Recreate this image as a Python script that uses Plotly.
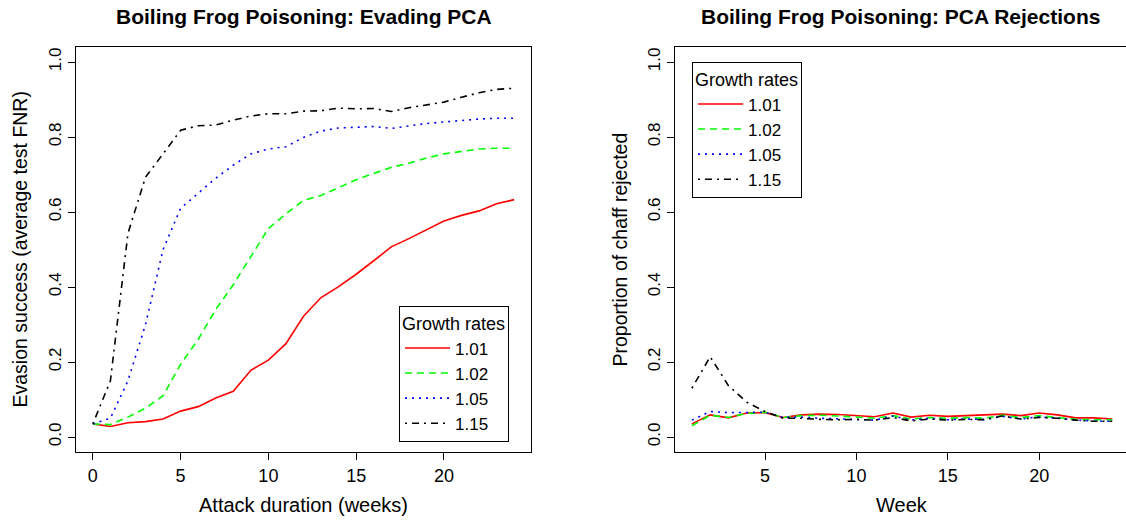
import plotly.graph_objects as go

# ---------------- data ----------------
growth_rates = ["1.01", "1.02", "1.05", "1.15"]

weeks_left = list(range(0, 25))
evade_101 = [0.035, 0.028, 0.038, 0.041, 0.048, 0.069, 0.081, 0.104, 0.122, 0.178, 0.205,
             0.249, 0.322, 0.372, 0.401, 0.434, 0.470, 0.507, 0.529, 0.553, 0.576, 0.591,
             0.603, 0.622, 0.633]
evade_102 = [0.035, 0.033, 0.053, 0.077, 0.110, 0.194, 0.260, 0.340, 0.406, 0.481, 0.556,
             0.595, 0.631, 0.644, 0.666, 0.686, 0.703, 0.719, 0.730, 0.744, 0.755, 0.761,
             0.768, 0.770, 0.770]
evade_105 = [0.035, 0.050, 0.150, 0.300, 0.500, 0.610, 0.650, 0.690, 0.725, 0.755, 0.768,
             0.774, 0.799, 0.816, 0.824, 0.826, 0.828, 0.823, 0.830, 0.836, 0.840, 0.845,
             0.848, 0.850, 0.850]
evade_115 = [0.035, 0.150, 0.543, 0.693, 0.755, 0.818, 0.830, 0.832, 0.845, 0.856, 0.862,
             0.862, 0.869, 0.870, 0.877, 0.875, 0.876, 0.868, 0.878, 0.885, 0.893, 0.906,
             0.918, 0.927, 0.930]

weeks_right = list(range(1, 25))
reject_101 = [0.035, 0.059, 0.051, 0.064, 0.065, 0.052, 0.059, 0.061, 0.060, 0.056, 0.054,
              0.064, 0.053, 0.058, 0.055, 0.057, 0.058, 0.061, 0.057, 0.064, 0.059, 0.051,
              0.051, 0.048]
reject_102 = [0.030, 0.058, 0.052, 0.063, 0.066, 0.052, 0.057, 0.058, 0.056, 0.053, 0.050,
              0.057, 0.048, 0.052, 0.050, 0.052, 0.050, 0.058, 0.052, 0.057, 0.053, 0.047,
              0.046, 0.046]
reject_105 = [0.045, 0.068, 0.065, 0.066, 0.066, 0.052, 0.053, 0.050, 0.049, 0.048, 0.045,
              0.056, 0.045, 0.050, 0.046, 0.048, 0.047, 0.055, 0.048, 0.054, 0.050, 0.045,
              0.042, 0.042]
reject_115 = [0.130, 0.214, 0.137, 0.093, 0.068, 0.050, 0.050, 0.047, 0.046, 0.047, 0.045,
              0.052, 0.043, 0.048, 0.045, 0.047, 0.046, 0.056, 0.048, 0.052, 0.050, 0.045,
              0.042, 0.042]

y_ticks = [0.0, 0.2, 0.4, 0.6, 0.8, 1.0]
x_ticks_left = [0, 5, 10, 15, 20]
x_ticks_right = [5, 10, 15, 20]

# ---------------- styles ----------------
colors = ["#FF0000", "#00FF00", "#0000FF", "#000000"]
dashes = ["solid", "7px,5px", "2px,5px", "2px,5px,7px,5px"]
W, H = 1126, 520
FONT = "Liberation Sans, Arial, Helvetica, sans-serif"

fig = go.Figure()

left_series = [evade_101, evade_102, evade_105, evade_115]
right_series = [reject_101, reject_102, reject_105, reject_115]

for name, ys, c, d in zip(growth_rates, left_series, colors, dashes):
    fig.add_trace(go.Scatter(x=weeks_left, y=ys, mode="lines", name=name,
                             line=dict(color=c, width=1.6, dash=d),
                             xaxis="x", yaxis="y", legend="legend"))
for name, ys, c, d in zip(growth_rates, right_series, colors, dashes):
    fig.add_trace(go.Scatter(x=weeks_right, y=ys, mode="lines", name=name,
                             line=dict(color=c, width=1.6, dash=d),
                             xaxis="x2", yaxis="y2", legend="legend2"))

def px_x(p):
    return p / W

def px_y(p):
    return 1 - p / H

axis_common = dict(showgrid=False, zeroline=False, showline=True, mirror=True,
                   linecolor="black", linewidth=1, ticks="outside", ticklen=7,
                   tickcolor="black", tickwidth=1)
x_tickfont = dict(family=FONT, size=18, color="black")
y_tickfont = dict(family=FONT, size=17, color="black")

left_dom = [px_x(76), px_x(531)]
right_dom = [px_x(675), 1.0]
y_dom = [px_y(452), px_y(47)]

legend_common = dict(bordercolor="black", borderwidth=1, bgcolor="white",
                     font=dict(family=FONT, size=17, color="black"),
                     title=dict(text="Growth rates", side="top",
                                font=dict(family=FONT, size=18, color="black")),
                     xanchor="left", yanchor="top", tracegroupgap=0, itemwidth=45)

fig.update_layout(
    width=W, height=H,
    margin=dict(l=0, r=0, t=0, b=0),
    paper_bgcolor="white", plot_bgcolor="white",
    xaxis=dict(domain=left_dom, range=[-0.96, 24.96], tickvals=x_ticks_left,
               anchor="y", tickfont=x_tickfont, **axis_common),
    yaxis=dict(domain=y_dom, range=[-0.04, 1.04], tickvals=y_ticks, tickformat=".1f",
               tickangle=-90, anchor="x", tickfont=y_tickfont, **axis_common),
    xaxis2=dict(domain=right_dom, range=[0.076, 24.75], tickvals=x_ticks_right,
                anchor="y2", tickfont=x_tickfont, **axis_common),
    yaxis2=dict(domain=y_dom, range=[-0.04, 1.04], tickvals=y_ticks, tickformat=".1f",
                tickangle=-90, anchor="x2", tickfont=y_tickfont, **axis_common),
    legend=dict(x=px_x(399), y=px_y(306), **legend_common),
    legend2=dict(x=px_x(692), y=px_y(62), **legend_common),
    showlegend=True,
)

xlab_font = dict(family=FONT, size=20, color="black")
ylab_font = dict(family=FONT, size=19.5, color="black")
title_font = dict(family=FONT, size=21, color="black")
annotations = [
    dict(text="<b>Boiling Frog Poisoning: Evading PCA</b>", x=px_x(303.5), y=px_y(16),
         font=title_font),
    dict(text="<b>Boiling Frog Poisoning: PCA Rejections</b>", x=px_x(900), y=px_y(16),
         font=title_font),
    dict(text="Attack duration (weeks)", x=px_x(303.5), y=px_y(505), font=xlab_font),
    dict(text="Week", x=px_x(902), y=px_y(505), font=xlab_font),
    dict(text="Evasion success (average test FNR)", x=px_x(19), y=px_y(249.5),
         textangle=-90, font=ylab_font),
    dict(text="Proportion of chaff rejected", x=px_x(619), y=px_y(249.5),
         textangle=-90, font=ylab_font),
]
for a in annotations:
    fig.add_annotation(xref="paper", yref="paper", showarrow=False,
                       xanchor="center", yanchor="middle", **a)

fig.write_html("out.html")
